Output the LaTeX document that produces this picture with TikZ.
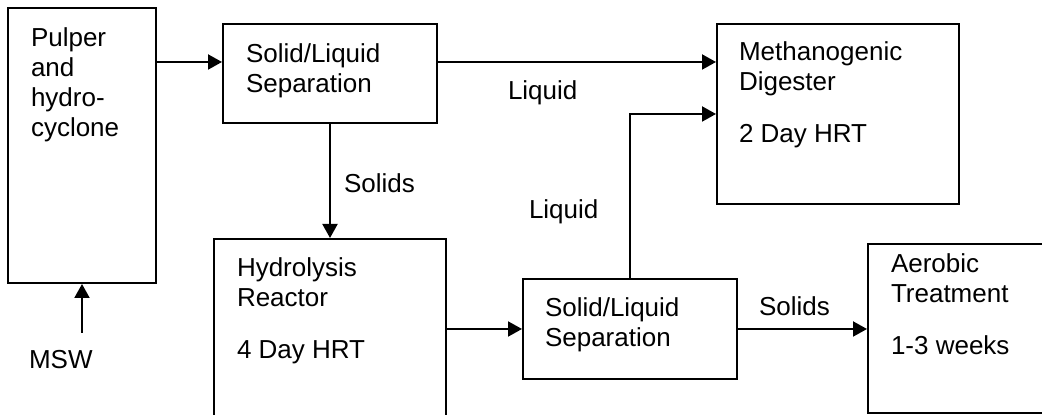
\documentclass[tikz,border=0pt]{standalone}
\usepackage{fontspec}
\setmainfont{Liberation Sans}
\usetikzlibrary{arrows.meta}
\begin{document}
\begin{tikzpicture}[x=0.5pt, y=-0.5pt, line width=1pt,
		unit/.style={draw, rectangle, inner sep=0pt},
		flow/.style={-{Triangle[length=7pt, width=7.5pt]}},
		txt/.style={anchor=north west, inner sep=0pt, align=left, font={\fontsize{13pt}{15pt}\selectfont}}]
				\useasboundingbox (0,0) rectangle (1042,415);
				\clip (0,0) rectangle (1042,415);
				
				%process units
				\node at (82,145.5) [unit, minimum width=74pt, minimum height=137.5pt] (pulper){};
				\node at (330,73.5) [unit, minimum width=107pt, minimum height=49.5pt] (sepA){};
				\node at (838,114) [unit, minimum width=121pt, minimum height=90pt] (digester){};
				\node at (330,339.5) [unit, minimum width=116pt, minimum height=100.5pt] (hydro){};
				\node at (630,329) [unit, minimum width=107pt, minimum height=50pt] (sepB){};
				\node at (964,328.5) [unit, minimum width=96pt, minimum height=84.5pt] (aerobic){};
				
				%unit texts
				\node at (30,27) [txt] (pulpertxt){Pulper\\and\\hydro-\\cyclone};
				\node at (245,43) [txt] (sepAtxt){Solid/Liquid\\Separation};
				\node at (738,41) [txt] (digestertxt){Methanogenic\\Digester\\[11pt]2 Day HRT};
				\node at (236,257) [txt] (hydrotxt){Hydrolysis\\Reactor\\[11pt]4 Day HRT};
				\node at (544,297) [txt] (sepBtxt){Solid/Liquid\\Separation};
				\node at (890,253) [txt] (aerobictxt){Aerobic\\Treatment\\[11pt]1-3 weeks};
				
				%stream labels
				\node at (507,80) [txt] (liqA){Liquid};
				\node at (343,173) [txt] (solA){Solids};
				\node at (528,199) [txt] (liqB){Liquid};
				\node at (758,296) [txt] (solB){Solids};
				\node at (28,349) [txt] (msw){MSW};
				
				%streams
				\coordinate (feedy) at (0,62);
				\coordinate (mswtail) at (82,333);
				\draw[flow] (pulper.east |- feedy) -- (sepA.west |- feedy);
				\draw[flow] (sepA.east |- feedy) -- (digester.west |- feedy);
				\draw[flow] (sepA.south) -- (hydro.north);
				\draw[flow] (mswtail) -- (pulper.south);
				\draw[flow] (hydro.east |- sepB.west) -- (sepB.west);
				\draw[flow] (sepB.east) -- (aerobic.west |- sepB.east);
				\draw[flow] (sepB.north) |- (digester.west);
			\end{tikzpicture}
\end{document}
